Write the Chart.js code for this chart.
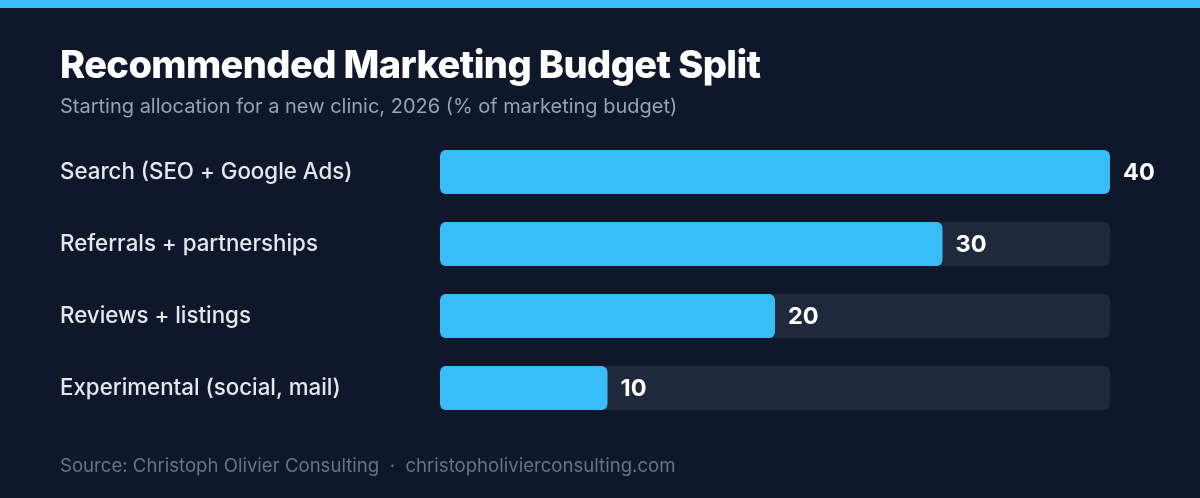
<!DOCTYPE html>
<html>
<head>
<meta charset="utf-8">
<script src="https://cdn.jsdelivr.net/npm/chart.js@4.4.1/dist/chart.umd.min.js"></script>
<style>
  html, body { margin: 0; padding: 0; background: #0f172a; width: 1200px; height: 498px; overflow: hidden; font-family: Inter, "Noto Sans", sans-serif; }
  #topbar { position: absolute; left: 0; top: 0; width: 1200px; height: 8px; background: #38bdf8; }
  #title { position: absolute; left: 60px; top: 39px; color: #ffffff; font-size: 38px; font-weight: 800; letter-spacing: -0.6px; line-height: 50px; white-space: nowrap; }
  #subtitle { position: absolute; left: 60px; top: 92px; color: #94a3b8; font-size: 20px; font-weight: 400; line-height: 28px; white-space: nowrap; }
  #footer { position: absolute; left: 60px; top: 452px; color: #64748b; font-size: 18.6px; font-weight: 400; line-height: 26px; white-space: nowrap; }
  #wrap { position: absolute; left: 0; top: 0; width: 1200px; height: 498px; }
</style>
</head>
<body>
<div id="topbar"></div>
<div id="wrap"><canvas id="c"></canvas></div>
<div id="title">Recommended Marketing Budget Split</div>
<div id="subtitle">Starting allocation for a new clinic, 2026 (% of marketing budget)</div>
<div id="footer">Source: Christoph Olivier Consulting &nbsp;·&nbsp; christopholivierconsulting.com</div>
<script>
const categories = ["Search (SEO + Google Ads)", "Referrals + partnerships", "Reviews + listings", "Experimental (social, mail)"];
const shareValues = [40, 30, 20, 10];
const axisMax = 40;

const trackPlugin = {
  id: 'track',
  beforeDatasetsDraw(chart) {
    const ctx = chart.ctx;
    const xs = chart.scales.x;
    const meta = chart.getDatasetMeta(0);
    ctx.save();
    ctx.fillStyle = '#1e293b';
    meta.data.forEach(bar => {
      const h = bar.height;
      const x0 = xs.getPixelForValue(0);
      const x1 = xs.getPixelForValue(axisMax);
      ctx.beginPath();
      ctx.roundRect(x0, bar.y - h / 2, x1 - x0, h, 6);
      ctx.fill();
    });
    ctx.restore();
  }
};

const valuePlugin = {
  id: 'values',
  afterDatasetsDraw(chart) {
    const ctx = chart.ctx;
    const meta = chart.getDatasetMeta(0);
    ctx.save();
    ctx.fillStyle = '#ffffff';
    ctx.font = '700 23.5px Inter, "Noto Sans", sans-serif';
    ctx.textBaseline = 'middle';
    ctx.textAlign = 'left';
    meta.data.forEach((bar, i) => {
      ctx.fillText(String(shareValues[i]), bar.x + 13, bar.y + 1);
    });
    ctx.restore();
  }
};

new Chart(document.getElementById('c'), {
  type: 'bar',
  data: {
    labels: categories,
    datasets: [{
      data: shareValues,
      backgroundColor: '#38bdf8',
      borderRadius: 6,
      borderSkipped: false,
      barPercentage: 0.611,
      categoryPercentage: 1.0
    }]
  },
  options: {
    indexAxis: 'y',
    responsive: true,
    maintainAspectRatio: false,
    animation: false,
    layout: { padding: { left: 60, right: 90, top: 136, bottom: 74 } },
    plugins: { legend: { display: false }, tooltip: { enabled: false } },
    scales: {
      x: { min: 0, max: axisMax, display: false },
      y: {
        grid: { display: false },
        border: { display: false },
        afterFit(scale) { scale.width = 380; },
        ticks: {
          crossAlign: 'far',
          padding: 0,
          color: '#e2e8f0',
          font: { family: 'Inter, "Noto Sans", sans-serif', size: 22.3, weight: 500 }
        }
      }
    }
  },
  plugins: [trackPlugin, valuePlugin]
});
</script>
</body>
</html>
